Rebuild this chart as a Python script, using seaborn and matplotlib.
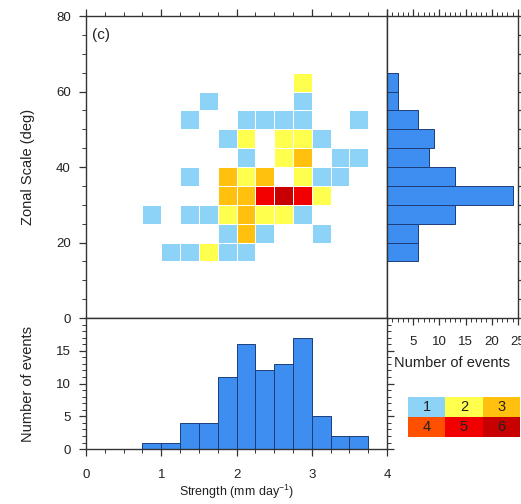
import numpy as np
import pandas as pd
import matplotlib
matplotlib.use('Agg')
import matplotlib.pyplot as plt
from matplotlib.colors import ListedColormap
from matplotlib.ticker import MultipleLocator
import seaborn as sns

# bin edges
strength_edges = [0.75, 1.0, 1.25, 1.5, 1.75, 2.0, 2.25, 2.5, 2.75, 3.0, 3.25, 3.5, 3.75]
scale_edges = [15, 20, 25, 30, 35, 40, 45, 50, 55, 60, 65]

# joint counts, rows = zonal scale bins (15-20 first), cols = strength bins
joint_counts = [
    [0, 1, 1, 2, 1, 1, 0, 0, 0, 0, 0, 0],   # 15-20
    [0, 0, 0, 0, 1, 3, 1, 0, 0, 1, 0, 0],   # 20-25
    [1, 0, 1, 1, 2, 3, 2, 2, 1, 0, 0, 0],   # 25-30
    [0, 0, 0, 0, 3, 3, 5, 6, 5, 2, 0, 0],   # 30-35
    [0, 0, 1, 0, 3, 2, 3, 0, 2, 1, 1, 0],   # 35-40
    [0, 0, 0, 0, 0, 1, 0, 2, 3, 0, 1, 1],   # 40-45
    [0, 0, 0, 0, 1, 2, 0, 2, 2, 1, 0, 0],   # 45-50
    [0, 0, 1, 0, 0, 1, 1, 1, 1, 0, 0, 1],   # 50-55
    [0, 0, 0, 1, 0, 0, 0, 0, 1, 0, 0, 0],   # 55-60
    [0, 0, 0, 0, 0, 0, 0, 0, 2, 0, 0, 0],   # 60-65
]

# marginal histograms
strength_counts = [1, 1, 4, 4, 11, 16, 12, 13, 17, 5, 2, 2]
scale_counts = [6, 6, 13, 24, 13, 8, 9, 6, 2, 2]

legend_values = [[1, 2, 3], [4, 5, 6]]
count_colors = ['#8dd3f7', '#ffff4d', '#ffc00e', '#ff5000', '#f20000', '#c80000']
bar_color = '#3d8ef0'

sns.set_style('white')
plt.rcParams['font.family'] = ['Liberation Sans', 'DejaVu Sans']
plt.rcParams['mathtext.default'] = 'regular'
plt.rcParams['font.size'] = 9.5

cmap = ListedColormap(count_colors)
ink = '#222222'

# long table for the 2d histogram
recs = []
for i in range(len(scale_edges) - 1):
    for j in range(len(strength_edges) - 1):
        if joint_counts[i][j] > 0:
            recs.append({'strength': (strength_edges[j] + strength_edges[j + 1]) / 2,
                         'scale': (scale_edges[i] + scale_edges[i + 1]) / 2,
                         'n': joint_counts[i][j]})
df = pd.DataFrame(recs)

s_mid = [(a + b) / 2 for a, b in zip(strength_edges[:-1], strength_edges[1:])]
z_mid = [(a + b) / 2 for a, b in zip(scale_edges[:-1], scale_edges[1:])]

fig = plt.figure(figsize=(5.21, 5.04), dpi=100)
ax_main = fig.add_axes([0.165, 0.369, 0.578, 0.599])
ax_right = fig.add_axes([0.743, 0.369, 0.251, 0.599])
ax_bot = fig.add_axes([0.165, 0.109, 0.578, 0.260])
ax_leg = fig.add_axes([0.783, 0.133, 0.215, 0.079])


def style(ax):
    for s in ax.spines.values():
        s.set_color('#333333')
        s.set_linewidth(1.0)
    ax.tick_params(which='both', direction='out', color='#333333', labelcolor=ink, labelsize=9.5)
    ax.tick_params(which='major', length=5, width=0.9)
    ax.tick_params(which='minor', length=3, width=0.7)


# main joint histogram
sns.histplot(data=df, x='strength', y='scale', weights='n',
             bins=(strength_edges, scale_edges), cmap=cmap, vmin=0.5, vmax=6.5,
             edgecolor='white', linewidth=0.6, ax=ax_main)
ax_main.set_xlim(0, 4)
ax_main.set_ylim(0, 80)
ax_main.xaxis.set_major_locator(MultipleLocator(1))
ax_main.xaxis.set_minor_locator(MultipleLocator(0.25))
ax_main.yaxis.set_major_locator(MultipleLocator(20))
ax_main.yaxis.set_minor_locator(MultipleLocator(5))
style(ax_main)
ax_main.tick_params(axis='x', which='both', top=True, bottom=False, labeltop=False, labelbottom=False)
ax_main.tick_params(axis='y', which='both', left=True, right=False, pad=6)
ax_main.set_xlabel('')
ax_main.set_ylabel('Zonal Scale (deg)', fontsize=10.5, color=ink, labelpad=15)
ax_main.text(0.02, 0.962, '(c)', transform=ax_main.transAxes, ha='left', va='top',
             fontsize=11, color=ink)

# right marginal histogram
sns.histplot(y=z_mid, weights=scale_counts, bins=scale_edges, color=bar_color, alpha=1,
             edgecolor='#1b3d7a', linewidth=0.7, ax=ax_right)
ax_right.set_xlim(0, 25)
ax_right.set_ylim(0, 80)
ax_right.set_xticks([0, 5, 10, 15, 20, 25])
ax_right.set_xticklabels(['', '5', '10', '15', '20', '25'])
ax_right.xaxis.set_minor_locator(MultipleLocator(1))
ax_right.yaxis.set_major_locator(MultipleLocator(5))
style(ax_right)
ax_right.tick_params(axis='x', which='both', top=True, bottom=True, labeltop=False, labelbottom=True, pad=8)
ax_right.tick_params(axis='y', which='both', left=False, right=True, labelleft=False, labelright=False, length=3)
ax_right.set_ylabel('')
ax_right.set_xlabel('Number of events', fontsize=10.5, color=ink, labelpad=6)

# bottom marginal histogram
sns.histplot(x=s_mid, weights=strength_counts, bins=strength_edges, color=bar_color, alpha=1,
             edgecolor='#1b3d7a', linewidth=0.7, ax=ax_bot)
ax_bot.set_xlim(0, 4)
ax_bot.set_ylim(0, 20)
ax_bot.xaxis.set_major_locator(MultipleLocator(1))
ax_bot.xaxis.set_minor_locator(MultipleLocator(0.25))
ax_bot.set_yticks([0, 5, 10, 15])
ax_bot.yaxis.set_minor_locator(MultipleLocator(1))
style(ax_bot)
ax_bot.tick_params(axis='x', which='both', top=False, bottom=True, pad=9)
ax_bot.tick_params(axis='y', which='both', left=True, right=True, labelright=False, pad=6)
ax_bot.set_xlabel('Strength (mm day$^{-1}$)', fontsize=9, color=ink, labelpad=2)
ax_bot.set_ylabel('Number of events', fontsize=10.5, color=ink, labelpad=15)

# colour key
sns.heatmap(np.array(legend_values), cmap=cmap, vmin=0.5, vmax=6.5, annot=True, fmt='d',
            cbar=False, xticklabels=False, yticklabels=False,
            annot_kws={'color': ink, 'fontsize': 10.5}, ax=ax_leg)

fig.savefig('out.png', dpi=100)
